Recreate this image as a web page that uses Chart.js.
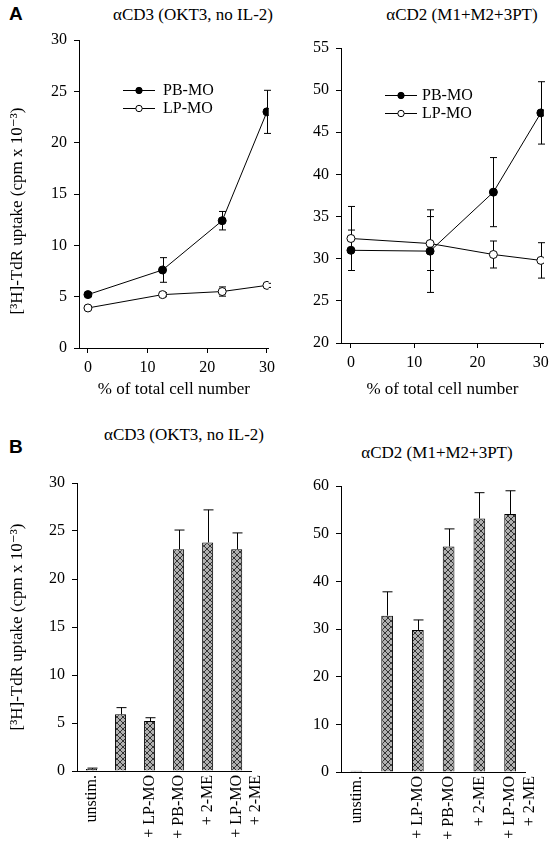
<!DOCTYPE html>
<html>
<head>
<meta charset="utf-8">
<script src="https://cdn.jsdelivr.net/npm/chart.js@4"></script>
<style>
  body { margin: 0; background: #fff; }
  #page { position: relative; width: 554px; height: 853px; overflow: hidden; }
  .box { position: absolute; }
  .letter { position: absolute; font: bold 19px "Liberation Sans", Arial, sans-serif; }
  .ptitle { position: absolute; font: 17px "Liberation Serif", "Times New Roman", serif; transform: translate(-50%, -50%); white-space: nowrap; }
</style>
</head>
<body>
<div id="page">
  <div class="letter" style="left:9px; top:3px;">A</div>
  <div class="letter" style="left:9px; top:436px;">B</div>
  <div class="ptitle" style="left:193px; top:15px;">αCD3 (OKT3, no IL-2)</div>
  <div class="ptitle" style="left:462px; top:15px;">αCD2 (M1+M2+3PT)</div>
  <div class="ptitle" style="left:184px; top:435px;">αCD3 (OKT3, no IL-2)</div>
  <div class="ptitle" style="left:437px; top:453px;">αCD2 (M1+M2+3PT)</div>
  <div class="box" style="left:0; top:0; width:280px; height:400px;"><canvas id="a1"></canvas></div>
  <div class="box" style="left:280px; top:0; width:274px; height:400px;"><canvas id="a2"></canvas></div>
  <div class="box" style="left:0; top:420px; width:280px; height:433px;"><canvas id="b1"></canvas></div>
  <div class="box" style="left:280px; top:420px; width:274px; height:433px;"><canvas id="b2"></canvas></div>
</div>
<script>
// --- data ---
const pctCells = [0, 12.5, 22.5, 30];
const xTicksA = [0, 10, 20, 30];

// A, anti-CD3
const pbCD3 = [5.2, 7.6, 12.4, 23.0];
const pbCD3Err = [0.2, 1.2, 0.9, 2.1];
const lpCD3 = [3.9, 5.2, 5.5, 6.1];
const lpCD3Err = [0.1, 0.2, 0.45, 0.2];

// A, anti-CD2
const pbCD2 = [31.0, 30.9, 37.9, 47.3];
const pbCD2Err = [2.4, 4.9, 4.1, 3.7];
const lpCD2 = [32.4, 31.8, 30.5, 29.8];
const lpCD2Err = [3.8, 3.2, 1.6, 2.1];

// B
const conditions = ['unstim.', '', '+ LP-MO', '+ PB-MO', '+ 2-ME', ['+ LP-MO', '+ 2-ME']];
const barCD3 = [0.2, 5.9, 5.2, 23.1, 23.8, 23.1];
const barCD3Err = [0.1, 0.7, 0.35, 2.0, 3.4, 1.7];
const barCD2 = [0.25, 32.8, 29.8, 47.3, 53.2, 54.1];
const barCD2Err = [0, 5.0, 2.1, 3.7, 5.4, 4.9];

const yTitle = '[³H]-TdR uptake (cpm x 10⁻³)';
const xTitle = '% of total cell number';

Chart.defaults.font.family = "'Liberation Serif', 'Times New Roman', 'DejaVu Serif', serif";
Chart.defaults.font.size = 16;
Chart.defaults.color = '#000';
Chart.defaults.animation = false;

// error bars drawn through the y scale
function drawErrors(chart, opts) {
  const ctx = chart.ctx, yScale = chart.scales.y;
  ctx.save();
  ctx.strokeStyle = '#000';
  ctx.lineWidth = 1;
  chart.data.datasets.forEach((ds, di) => {
    if (!ds.errors) return;
    const meta = chart.getDatasetMeta(di);
    meta.data.forEach((el, i) => {
      const d = ds.data[i];
      const v = typeof d === 'object' ? d.y : d;
      const e = ds.errors[i];
      if (!e) return;
      const x = Math.round(el.x) + 0.5;
      const top = yScale.getPixelForValue(v + e);
      const bot = opts.upOnly ? yScale.getPixelForValue(v) : yScale.getPixelForValue(v - e);
      ctx.beginPath();
      ctx.moveTo(x, top); ctx.lineTo(x, bot);
      ctx.moveTo(x - opts.cap, top); ctx.lineTo(x + opts.cap, top);
      if (!opts.upOnly) { ctx.moveTo(x - opts.cap, bot); ctx.lineTo(x + opts.cap, bot); }
      ctx.stroke();
    });
  });
  ctx.restore();
}
const errorBars = {
  id: 'errorBars',
  beforeDatasetsDraw(chart, args, opts) { if (opts.behind) drawErrors(chart, opts); },
  afterDatasetsDraw(chart, args, opts) { if (!opts.behind) drawErrors(chart, opts); }
};

// legend with line through marker, inside the plot
const lineLegend = {
  id: 'lineLegend',
  afterDraw(chart, args, opts) {
    const ctx = chart.ctx, area = chart.chartArea;
    ctx.save();
    chart.data.datasets.forEach((ds, i) => {
      const x0 = area.left + opts.x, y = area.top + opts.y + i * opts.gap;
      ctx.strokeStyle = '#000'; ctx.lineWidth = 1;
      ctx.beginPath(); ctx.moveTo(x0, y + 0.5); ctx.lineTo(x0 + 32, y + 0.5); ctx.stroke();
      ctx.beginPath(); ctx.arc(x0 + 16, y + 0.5, 3.2, 0, Math.PI * 2);
      ctx.fillStyle = ds.pointBackgroundColor; ctx.fill(); ctx.stroke();
      ctx.fillStyle = '#000';
      ctx.font = "16px 'Liberation Serif', serif";
      ctx.textBaseline = 'middle';
      ctx.fillText(ds.label, x0 + opts.textX, y + 1);
    });
    ctx.restore();
  }
};

function hatch() {
  const c = document.createElement('canvas');
  c.width = 6; c.height = 6;
  const g = c.getContext('2d');
  g.fillStyle = '#b0b0b0'; g.fillRect(0, 0, 6, 6);
  g.strokeStyle = '#333'; g.lineWidth = 1;
  g.beginPath();
  g.moveTo(0, 0); g.lineTo(6, 6);
  g.moveTo(6, 0); g.lineTo(0, 6);
  g.stroke();
  return g.createPattern(c, 'repeat');
}

function axisStyle(extra) {
  return Object.assign({
    grid: { drawOnChartArea: false, drawTicks: true, tickLength: 5, color: '#000' },
    border: { display: true, color: '#000', width: 1 },
    ticks: { padding: 4, color: '#000' }
  }, extra);
}

function lineChart(id, pb, pbErr, lp, lpErr, yMin, yMax, box, yTitleText, legendPos) {
  return new Chart(document.getElementById(id), {
    type: 'line',
    data: {
      datasets: [
        { label: 'PB-MO', data: pctCells.map((x, i) => ({ x: x, y: pb[i] })), errors: pbErr,
          borderColor: '#000', borderWidth: 1, pointBackgroundColor: '#000', pointBorderColor: '#000',
          pointRadius: 4, pointBorderWidth: 1, tension: 0 },
        { label: 'LP-MO', data: pctCells.map((x, i) => ({ x: x, y: lp[i] })), errors: lpErr,
          borderColor: '#000', borderWidth: 1, pointBackgroundColor: '#fff', pointBorderColor: '#000',
          pointRadius: 4, pointBorderWidth: 1, tension: 0 }
      ]
    },
    options: {
      responsive: true, maintainAspectRatio: false,
      layout: { padding: { top: box.top, right: box.right, left: 0, bottom: 0 } },
      plugins: {
        legend: { display: false }, tooltip: { enabled: false },
        errorBars: { behind: true, cap: 3.5 },
        lineLegend: legendPos
      },
      scales: {
        x: axisStyle({
          type: 'linear', min: box.xMin, max: box.xMax,
          afterBuildTicks: s => { s.ticks = xTicksA.map(v => ({ value: v })); },
          afterFit: s => { s.height = box.xh; },
          title: { display: true, text: xTitle, font: { size: 17 }, padding: { top: 0, bottom: box.xtPad } },
          ticks: { padding: 5, color: '#000' }
        }),
        y: axisStyle({
          min: yMin, max: yMax, ticks: { stepSize: 5, padding: 7, color: '#000' },
          afterFit: s => { s.width = box.left; },
          title: { display: !!yTitleText, text: yTitleText, font: { size: 17 }, padding: { top: 7, bottom: 0 } }
        })
      }
    },
    plugins: [errorBars, lineLegend]
  });
}

function barChart(id, vals, errs, yMax, yStep, box, yTitleText) {
  return new Chart(document.getElementById(id), {
    type: 'bar',
    data: {
      labels: conditions,
      datasets: [{ data: vals, errors: errs, backgroundColor: hatch(), borderColor: '#000',
        borderWidth: 1, barPercentage: 0.38, categoryPercentage: 1 }]
    },
    options: {
      responsive: true, maintainAspectRatio: false,
      layout: { padding: { top: box.top, right: box.right, left: 0, bottom: 0 } },
      plugins: {
        legend: { display: false }, tooltip: { enabled: false },
        errorBars: { behind: false, upOnly: true, cap: 5 }
      },
      scales: {
        x: axisStyle({
          grid: { drawOnChartArea: false, drawTicks: false, color: '#000' },
          afterFit: s => { s.height = box.xh; },
          ticks: { minRotation: 90, maxRotation: 90, autoSkip: false, padding: 4, color: '#000', font: { size: 16 } }
        }),
        y: axisStyle({
          min: 0, max: yMax, ticks: { stepSize: yStep, padding: 7, color: '#000' },
          afterFit: s => { s.width = box.left; },
          title: { display: !!yTitleText, text: yTitleText, font: { size: 17 }, padding: { top: 7, bottom: 0 } }
        })
      }
    },
    plugins: [errorBars]
  });
}

// the panel A axis title sits a little above the middle of the axis
const padEnd = '\u00A0'.repeat(8);

lineChart('a1', pbCD3, pbCD3Err, lpCD3, lpCD3Err, 0, 30,
  { top: 40, right: 5, left: 79, xh: 52, xMin: -1.5, xMax: 30.3, xtPad: 0 }, yTitle + padEnd,
  { x: 44, y: 50, gap: 18, textX: 40 });
lineChart('a2', pbCD2, pbCD2Err, lpCD2, lpCD2Err, 20, 55,
  { top: 48, right: 9, left: 61, xh: 57, xMin: -1.57, xMax: 30.47, xtPad: 0 }, '',
  { x: 44, y: 47, gap: 18, textX: 37 });
barChart('b1', barCD3, barCD3Err, 30, 5,
  { top: 63, right: 11, left: 77, xh: 82 }, yTitle);
barChart('b2', barCD2, barCD2Err, 60, 10,
  { top: 66, right: 18, left: 61, xh: 81 }, '');
</script>
</body>
</html>
